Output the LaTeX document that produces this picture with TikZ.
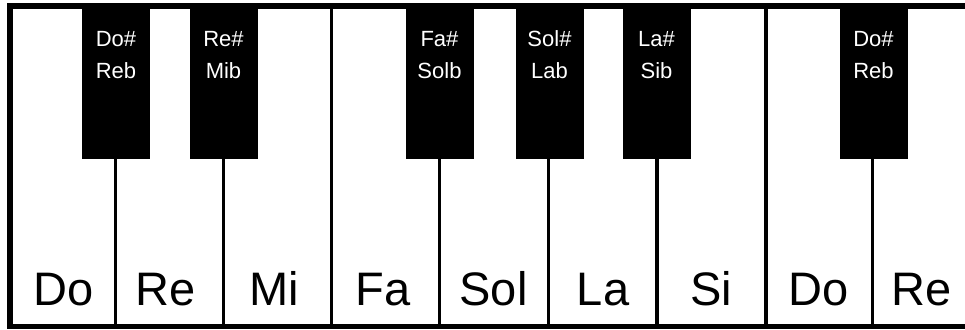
\documentclass[tikz,border=0pt]{standalone}
\usepackage{fontspec}
\setmainfont{Liberation Sans}
\begin{document}
\begin{tikzpicture}[x=1pt,y=-1pt,
  bkey/.style={fill=black},
  frame/.style={fill=black},
  divider/.style={line width=3.5pt},
  blabel/.style={text=white, font=\fontsize{22}{26}\selectfont, anchor=base, inner sep=0pt},
  wlabel/.style={text=black, font=\fontsize{47}{50}\selectfont, anchor=base, inner sep=0pt}]
\useasboundingbox (0,0) rectangle (965,329);
\clip (0,0) rectangle (965,329);
\fill[white] (0,0) rectangle (965,329);
% white key dividers (short: under black keys; full: Mi|Fa, Si|Do)
\foreach \x in {115.5,223.3,439.3,548.3,656.8,872.3} {
  \draw[divider] (\x,159) -- (\x,324);
}
\foreach \x in {331.7,766.2} {
  \draw[divider] (\x,9) -- (\x,324);
}
% black keys
\foreach \x/\a/\b/\n in {116/{Do\#}/Reb/1, 223.5/{Re\#}/Mib/2, 439.5/{Fa\#}/Solb/3, 549.5/{Sol\#}/Lab/4, 656.5/{La\#}/Sib/5, 873.5/{Do\#}/Reb/6} {
  \fill[bkey] (\x-34,9) rectangle (\x+34,159);
  \node[blabel] (bt\n) at (\x,47) {\a};
  \node[blabel] (bb\n) at (\x,78) {\b};
}
% frame
\fill[frame] (7,3) rectangle (965,9);
\fill[frame] (7,3) rectangle (13,329);
\fill[frame] (7,324) rectangle (965,329);
% white key labels
\foreach \x/\t/\n in {64/Do/1, 165.5/Re/2, 274.5/Mi/3, 383/Fa/4, 493.5/Sol/5, 603/La/6, 711.5/Si/7, 819/Do/8, 921.5/Re/9} {
  \node[wlabel] (w\n) at (\x,305) {\t};
}
\end{tikzpicture}
\end{document}
